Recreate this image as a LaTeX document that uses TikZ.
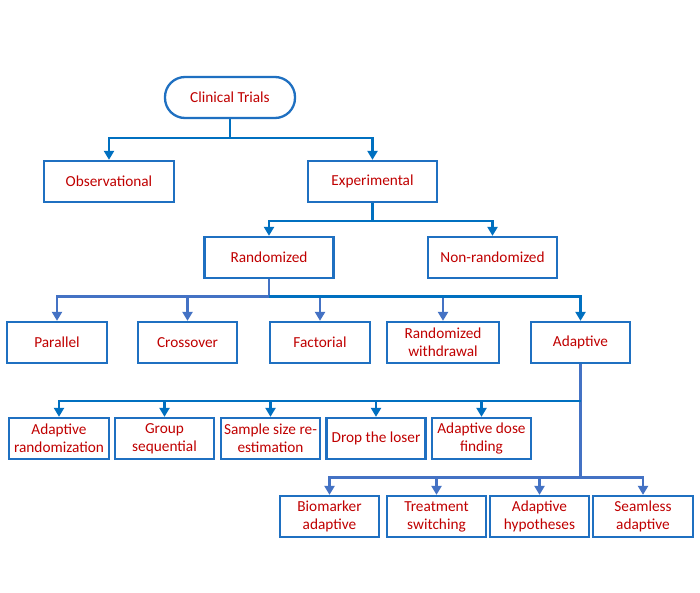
\documentclass[tikz,border=0pt]{standalone}
\usepackage{fontspec}
\setmainfont{Carlito}
\usetikzlibrary{arrows.meta}
\definecolor{boxblue}{HTML}{1F70C1}
\definecolor{darkblue}{HTML}{0070C0}
\definecolor{lightblue}{HTML}{4472C4}
\definecolor{textred}{HTML}{C00000}
\tikzset{
  box/.style={draw=boxblue, line width=2.3pt, rectangle, minimum height=41pt, inner sep=1pt,
    text=textred, align=center, font=\fontsize{15.3}{18}\selectfont},
  pill/.style={box, rounded corners=20pt},
  conn/.style={draw=darkblue, line width=2.2pt},
  connl/.style={draw=lightblue, line width=2.2pt},
  arr/.style={-{Triangle[width=10pt,length=9pt]}},
}
\begin{document}
\begin{tikzpicture}[x=1pt,y=-1pt]
\useasboundingbox[fill=white] (0,0) rectangle (700,592);
% nodes
\node[pill, minimum width=130pt] (ct) at (230,97.5) {Clinical Trials};
\node[box, minimum width=130pt] (obs) at (109,181.5) {Observational};
\node[box, minimum width=129pt] (exp) at (372.5,181.5) {Experimental};
\node[box, minimum width=129pt] (rand) at (269,257.5) {Randomized};
\node[box, minimum width=129pt] (nonr) at (492.5,257.5) {Non-randomized};
% row 3
\node[box, minimum width=100pt] (par) at (57,342.5) {Parallel};
\node[box, minimum width=99pt] (cross) at (187.5,342.5) {Crossover};
\node[box, minimum width=100pt] (fact) at (320,342.5) {Factorial};
\node[box, minimum width=112pt] (rw) at (443,342.5) {Randomized\\withdrawal};
\node[box, minimum width=99pt] (adap) at (580.5,342.5) {Adaptive};
% row 4
\node[box, minimum width=100pt] (ar) at (59,438.5) {Adaptive\\randomization};
\node[box, minimum width=99pt] (gs) at (164.5,438.5) {Group\\sequential};
\node[box, minimum width=99pt] (ss) at (270.5,438.5) {Sample size re-\\estimation};
\node[box, minimum width=99pt] (dl) at (376,438.5) {Drop the loser};
\node[box, minimum width=99pt] (ad) at (481.5,438.5) {Adaptive dose\\finding};
% row 5
\node[box, minimum width=99pt] (bio) at (329.5,516.5) {Biomarker\\adaptive};
\node[box, minimum width=99pt] (ts) at (436.5,516.5) {Treatment\\switching};
\node[box, minimum width=99pt] (ah) at (539.5,516.5) {Adaptive\\hypotheses};
\node[box, minimum width=100pt] (sa) at (643,516.5) {Seamless\\adaptive};
% branch coordinates
\coordinate (b1) at (230,138);
\coordinate (b2) at (372.5,221);
\coordinate (b3) at (269,296.5);
\coordinate (b4) at (580.5,401);
\coordinate (b5) at (580.5,477.5);
% connectors
\draw[conn] (ct.south) -- (b1);
\draw[conn,arr] (b1) -| (obs.north);
\draw[conn,arr] (b1) -| (exp.north);
\draw[conn] (exp.south) -- (b2);
\draw[conn,arr] (b2) -| (rand.north);
\draw[conn,arr] (b2) -| (nonr.north);
\draw[connl] (rand.south) -- (b3);
\draw[connl,arr] (b3) -| (par.north);
\draw[connl,arr] (b3) -| (cross.north);
\draw[connl,arr] (b3) -| (fact.north);
\draw[connl,arr] (b3) -| (rw.north);
\draw[conn,arr] (b3) -| (adap.north);
\draw[connl] (adap.south) -- (b5);
\draw[conn,arr] (b4) -| (ar.north);
\draw[conn,arr] (b4) -| (gs.north);
\draw[conn,arr] (b4) -| (ss.north);
\draw[conn,arr] (b4) -| (dl.north);
\draw[conn,arr] (b4) -| (ad.north);
\draw[connl,arr] (b5) -| (bio.north);
\draw[connl,arr] (b5) -| (ts.north);
\draw[connl,arr] (b5) -| (ah.north);
\draw[connl,arr] (b5) -| (sa.north);
\end{tikzpicture}
\end{document}
